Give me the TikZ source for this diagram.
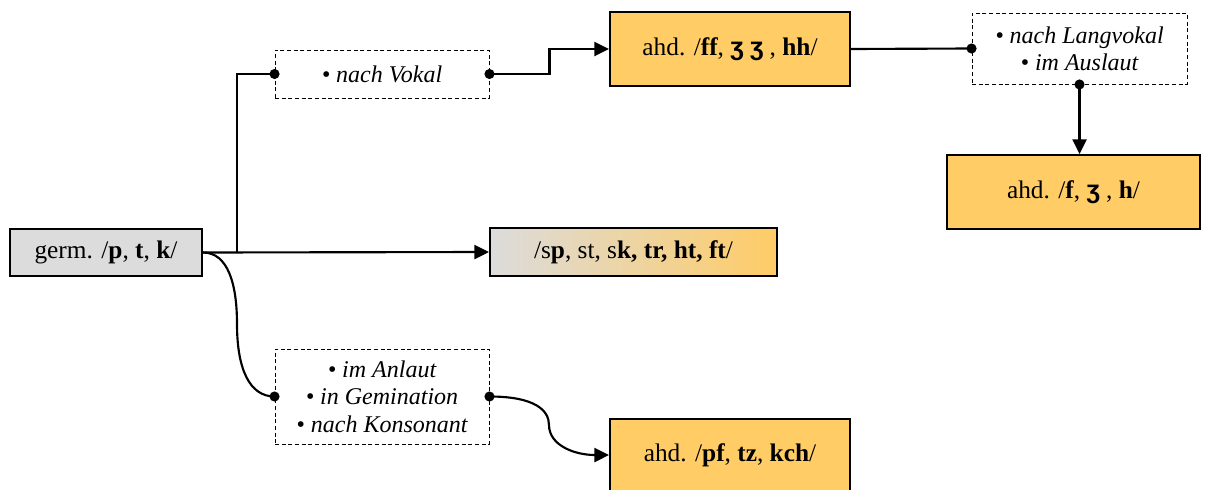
\documentclass[tikz,border=0pt]{standalone}
\usepackage{fontspec}
\setmainfont{Liberation Serif}
\newfontfamily\ezhfont{Liberation Sans}
\usetikzlibrary{arrows.meta}
\definecolor{boxgrey}{RGB}{220,220,220}
\definecolor{boxorange}{RGB}{255,204,102}
\newcommand{\ezh}{{\ezhfont\bfseries ʒ}}

\begin{document}
\begin{tikzpicture}[x=0.75pt,y=0.75pt,yscale=-1,xscale=1,
  box/.style={draw, line width=1.4pt, inner sep=0pt, font=\fontsize{19}{22}\selectfont},
  cond/.style={draw, line width=0.7pt, dash pattern=on 3pt off 2pt, align=center, inner sep=0pt, font=\fontsize{18}{20.5}\selectfont\itshape},
  link/.style={line width=1.6pt},
  arr/.style={link, -{Triangle[length=11pt,width=10.5pt]}}
]
\useasboundingbox (0,0) rectangle (1210,489);

%Shape: Rectangle
\node[box, fill=boxgrey, minimum width=144pt, minimum height=35.25pt] (germ) at (106,252.5) {germ. /\textbf{p}, \textbf{t}, \textbf{k}/};
%Shape: Rectangle
\node[box, left color=boxgrey, right color=boxorange, minimum width=215.25pt, minimum height=36pt] (cluster) at (633.5,252) {/s\textbf{p}, st, s\textbf{k, tr, ht, ft}/};
%Shape: Rectangle
\node[cond, minimum width=160.5pt, minimum height=36pt] (vokal) at (382,74) {• nach Vokal};
%Shape: Rectangle
\node[box, fill=boxorange, minimum width=180pt, minimum height=55.5pt] (geminate) at (730,49) {ahd. /\textbf{ff}, \ezh\ \ezh\ , \textbf{hh}/};
%Shape: Rectangle
\node[cond, minimum width=161.25pt, minimum height=53.25pt] (lang) at (1079.5,48.5) {• nach Langvokal\\• im Auslaut};
%Shape: Rectangle
\node[box, fill=boxorange, minimum width=189.75pt, minimum height=55.5pt] (single) at (1073.5,192) {ahd. /\textbf{f}, \ezh\ , \textbf{h}/};
%Shape: Rectangle
\node[cond, minimum width=160.5pt, minimum height=71.25pt] (anlaut) at (382,396.5) {• im Anlaut\\• in Gemination\\• nach Konsonant};
%Shape: Rectangle
\node[box, fill=boxorange, minimum width=180pt, minimum height=54pt] (affricate) at (730,455) {ahd. /\textbf{pf}, \textbf{tz}, \textbf{kch}/};

% bend points of the connectors
\coordinate (split) at (237,252.5);
\coordinate (lowbend) at (237,324);
\coordinate (sbend) at (549,425);

%Straight Lines
\draw[arr] (germ.east) -- (cluster.west);
\draw[link] (split) |- (vokal.west);
\draw[arr] (vokal.east) -- ++(60,0) |- (geminate.west);
\draw[link] (geminate.east) -- (lang.west);
\draw[arr] (lang.south) -- (lang.south |- single.north);
%Curve Lines
\draw[link] (germ.east) .. controls +(25,0) and +(0,-40) .. (lowbend) .. controls +(0,45) and +(-25,0) .. (anlaut.west);
\draw[arr] (anlaut.east) .. controls +(45,0) and +(0,-15) .. (sbend) .. controls +(0,20) and +(-35,0) .. (affricate.west);

% dots on the condition boxes
\foreach \p in {vokal.west, vokal.east, lang.west, lang.south, anlaut.west, anlaut.east}
  \fill (\p) circle (3.8pt);

\end{tikzpicture}
\end{document}
